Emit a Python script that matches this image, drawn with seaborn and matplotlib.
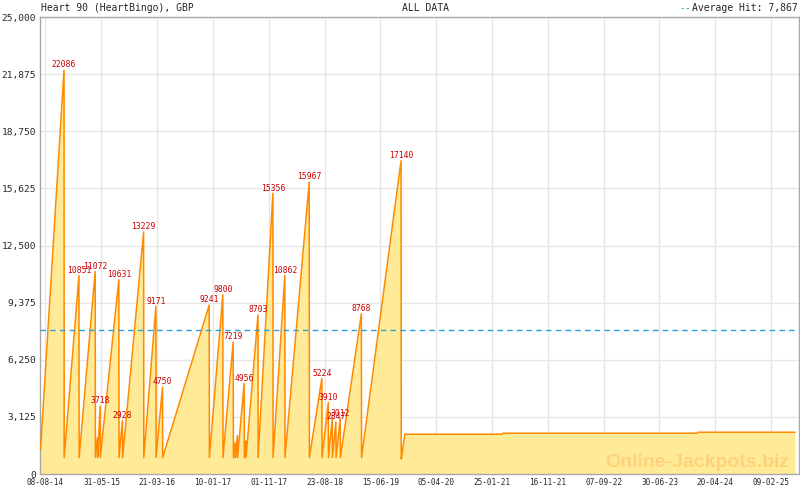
import matplotlib
matplotlib.use('Agg')
import matplotlib.pyplot as plt
import matplotlib.ticker as mticker
import numpy as np
import pandas as pd
import seaborn as sns

# jackpot hits (date of hit, amount before reset), '' = not labelled on chart
hit_dates = ['2014-11-14', '2015-02-01', '2015-04-28', '2015-05-10', '2015-05-24',
             '2015-08-31', '2015-09-19', '2016-01-09', '2016-03-14', '2016-04-18',
             '2016-12-21', '2017-03-03', '2017-04-27', '2017-05-08', '2017-05-19',
             '2017-06-24', '2017-07-03', '2017-09-05', '2017-11-23', '2018-01-25',
             '2018-06-03', '2018-08-09', '2018-09-12', '2018-10-03', '2018-10-22',
             '2018-11-14', '2019-03-06', '2019-10-02']
hit_values = [22086, 10851, 11072, 2000, 3718,
              10631, 2928, 13229, 9171, 4750,
              9241, 9800, 7219, 1700, 2100,
              4956, 1800, 8703, 15356, 10862,
              15967, 5224, 3910, 3050, 2847,
              3012, 8768, 17140]
hit_labels = ['22086', '10851', '11072', '', '3718',
              '10631', '2928', '13229', '9171', '4750',
              '9241', '9800', '7219', '', '',
              '4956', '', '8703', '15356', '10862',
              '15967', '5224', '3910', '', '2847',
              '3012', '8768', '17140']
seed_value = 900

start_date, start_value = '2014-07-13', 1350
# after the last hit the jackpot sits almost flat
tail_dates = ['2019-10-03', '2019-10-10', '2019-10-22', '2021-03-21', '2021-03-22',
              '2024-01-17', '2024-01-18', '2025-06-16']
tail_values = [820, 1300, 2176, 2176, 2230, 2230, 2285, 2285]

average_hit = 7867
tick_labels = ['08-08-14', '31-05-15', '21-03-16', '10-01-17', '01-11-17', '23-08-18',
               '15-06-19', '05-04-20', '25-01-21', '16-11-21', '07-09-22', '30-06-23',
               '20-04-24', '09-02-25']

# build the series: each hit drops back to the seed the next day
rows = [(start_date, start_value)]
for d, v in zip(hit_dates[:-1], hit_values[:-1]):
    rows.append((d, v))
    rows.append((str((pd.Timestamp(d) + pd.Timedelta(days=1)).date()), seed_value))
rows.append((hit_dates[-1], hit_values[-1]))
rows += list(zip(tail_dates, tail_values))
df = pd.DataFrame(rows, columns=['date', 'value'])
df['date'] = pd.to_datetime(df['date'])

sns.set_style('white')
plt.rcParams['font.family'] = ['DejaVu Sans Mono']

fig = plt.figure(figsize=(8, 4.9), dpi=100)
ax = fig.add_axes([0.05, 1 - 474 / 490, 759 / 800, 457 / 490])

ax.fill_between(df['date'], df['value'], color='#FFEA98', lw=0, zorder=1)
sns.lineplot(data=df, x='date', y='value', ax=ax, color='#FF8A00', lw=1.1,
             estimator=None, sort=False, zorder=3)
ax.axhline(average_hit, color='#2AA3D8', ls=(0, (4, 3)), lw=1, zorder=4)

for d, v, lab in zip(hit_dates, hit_values, hit_labels):
    if lab:
        ax.annotate(lab, (pd.Timestamp(d), v), xytext=(0, 2), textcoords='offset points',
                    ha='center', va='baseline', fontsize=5.8, color='#CC0000', zorder=5)

ax.set_xlim(pd.Timestamp('2014-07-10'), pd.Timestamp('2025-06-16'))
ax.set_ylim(0, 25000)

ticks = pd.to_datetime(tick_labels, format='%d-%m-%y')
ax.set_xticks(ticks)
ax.set_xticklabels(tick_labels)
mids = ticks[:-1] + (ticks[1:] - ticks[:-1]) / 2
ax.set_xticks(list(mids) + [ticks[-1] + (ticks[1] - ticks[0]) / 2], minor=True)
ax.set_yticks(np.arange(0, 25001, 3125))
ax.yaxis.set_major_formatter(mticker.FuncFormatter(lambda v, p: f'{v:,.0f}'))

ax.set_xlabel('')
ax.set_ylabel('')
ax.grid(True, which='major', color='#E6E6E6', lw=1)
ax.set_axisbelow(True)
ax.tick_params(axis='x', which='both', direction='in', length=5, color='#AAAAAA',
               labelsize=5.6, pad=3)
ax.tick_params(axis='y', length=0, labelsize=6.8, pad=3)
for s in ax.spines.values():
    s.set_color('#A8A8A8')
    s.set_linewidth(1)

# header
fig.text(41 / 800, 1 - 8 / 490, 'Heart 90 (HeartBingo), GBP', ha='left', va='center', fontsize=7)
fig.text(426 / 800, 1 - 8 / 490, 'ALL DATA', ha='center', va='center', fontsize=7)
fig.text(798 / 800, 1 - 8 / 490, 'Average Hit: 7,867', ha='right', va='center', fontsize=7)
fig.text(691 / 800, 1 - 8 / 490, '--', ha='right', va='center', fontsize=7, color='#2AA3D8')

fig.text(789 / 800, 1 - 467 / 490, 'Online-Jackpots.biz', ha='right', va='baseline',
         fontsize=14, fontweight='bold', color='#FFD27A', family='Liberation Sans')

fig.savefig('out.png', dpi=100)
